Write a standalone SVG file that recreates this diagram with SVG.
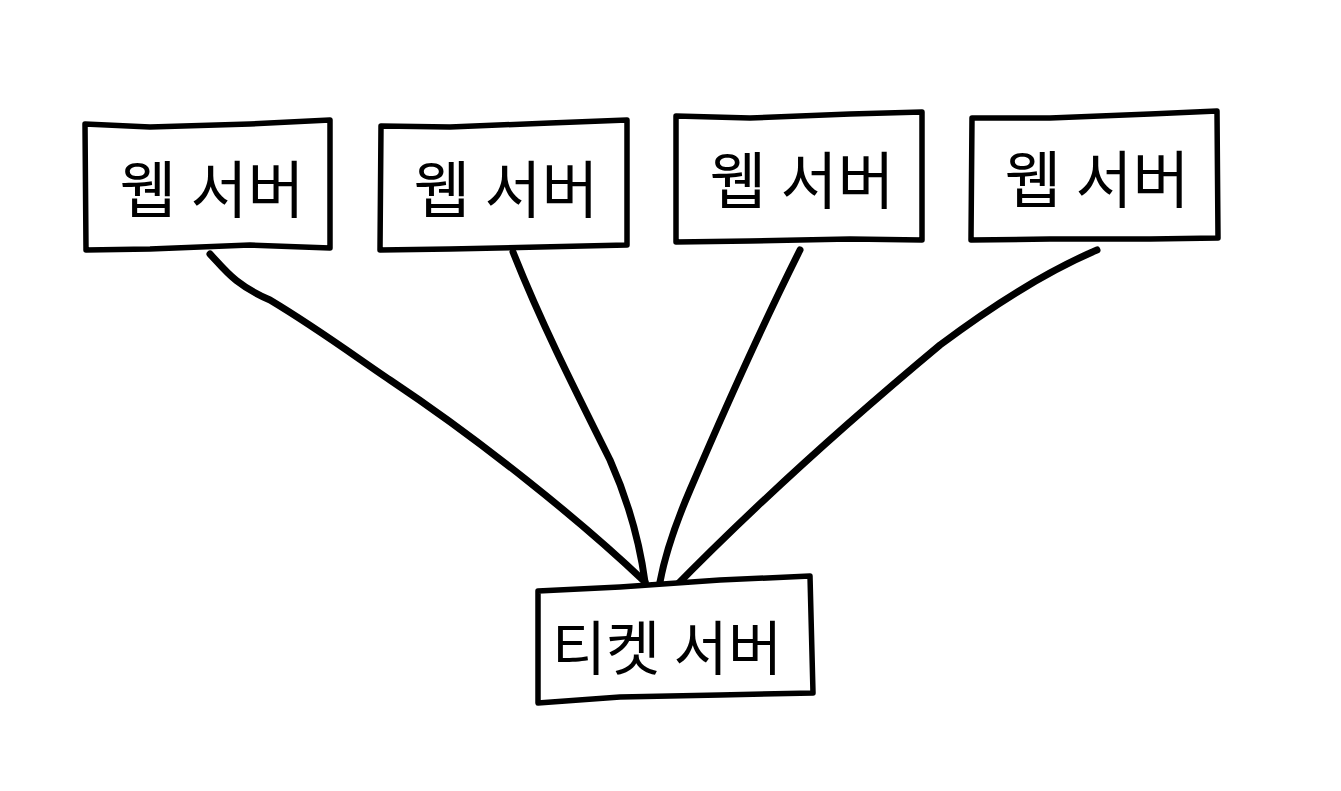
<svg xmlns="http://www.w3.org/2000/svg" width="1341" height="791" viewBox="0 0 1341 791">
<style>
.box{fill:#fff;stroke:#000;stroke-width:5.5;stroke-linejoin:round;stroke-linecap:round}
.ln{fill:none;stroke:#000;stroke-width:7;stroke-linecap:round;stroke-linejoin:round}
.lbl{font-family:"Noto Sans CJK KR","Noto Sans",sans-serif;font-size:62px;fill:#000;text-anchor:middle;dominant-baseline:central}
.lbl2{font-size:59px}
</style>
<rect width="1341" height="791" fill="#fff"/>
<g id="connectors">
<path class="ln" d="M210,254 C225,270 235,285 270,300 C320,330 360,360 390,380 C480,440 580,520 645,582"/>
<path class="ln" d="M513,252 C540,320 570,380 610,460 C630,505 640,545 645,582"/>
<path class="ln" d="M800,250 C760,330 720,420 690,490 C675,525 665,555 660,582"/>
<path class="ln" d="M1097,250 C1050,270 1000,300 940,345 C850,420 760,500 672,590"/>
</g>
<g id="web1">
<path class="box" d="M85,124 L150,127 L250,124 L330,120 L330,248 L250,245 L150,249 L86,250 Z"/>
<text class="lbl" x="212" y="186">웹 서버</text>
</g>
<g id="web2">
<path class="box" d="M381,126 L450,127 L550,123 L627,120 L627,245 L540,247 L450,249 L380,250 Z"/>
<text class="lbl" x="506" y="186">웹 서버</text>
</g>
<g id="web3">
<path class="box" d="M676,116 L750,118 L850,114 L922,112 L922,240 L850,239 L750,241 L676,242 Z"/>
<text class="lbl" x="802" y="177">웹 서버</text>
</g>
<g id="web4">
<path class="box" d="M972,118 L1050,118 L1150,114 L1217,111 L1218,238 L1150,239 L1050,239 L971,240 Z"/>
<text class="lbl" x="1097" y="176">웹 서버</text>
</g>
<g id="ticket">
<path class="box" d="M538,591 L620,587 L720,580 L810,576 L813,693 L720,695 L620,697 L538,703 Z"/>
<text class="lbl lbl2" x="667" y="644">티켓 서버</text>
</g>
</svg>
